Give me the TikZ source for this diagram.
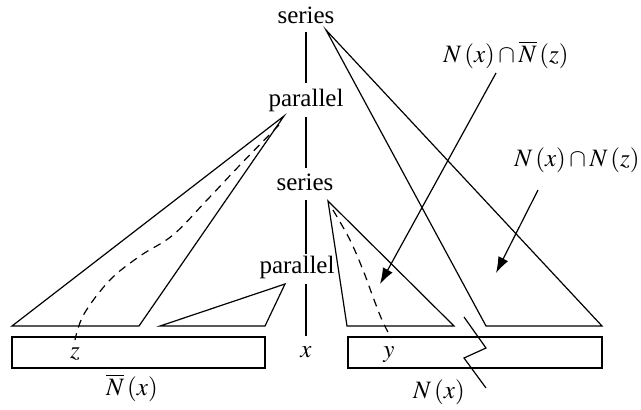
\documentclass[tikz,border=0pt]{standalone}
\usepackage{mathptmx}
\usepackage[no-math]{fontspec}
\setmainfont{Liberation Serif}
\usetikzlibrary{arrows.meta}
\tikzset{
  lbl/.style={inner sep=0pt, font=\fontsize{12.5}{15}\selectfont},
  shp/.style={line width=0.6pt, line join=miter},
  dsh/.style={line width=0.6pt, dash pattern=on 4pt off 3pt},
  ptr/.style={line width=0.6pt, -{Latex[length=8pt,width=5.5pt]}},
}
\begin{document}
\begin{tikzpicture}[x=0.5pt,y=-0.5pt]
\useasboundingbox (0,0) rectangle (641,409);
% spine labels
\node[lbl,anchor=base] (s1) at (306,23) {series};
\node[lbl,anchor=base] (p1) at (306,106) {parallel};
\node[lbl,anchor=base] (s2) at (305,190) {series};
\node[lbl,anchor=base] (p2) at (297,273) {parallel};
\node[lbl,anchor=base] (xl) at (306,357) {$x$};
% spine
\draw[shp,shorten <=4.5pt,shorten >=11.5pt] (s1.base) -- (p1.base);
\draw[shp,shorten <=5.5pt,shorten >=11pt] (p1.base) -- (p1.base |- s2.base);
\draw[shp,shorten <=5pt,shorten >=9.5pt] (p1.base |- s2.base) -- (p1.base |- p2.base);
\draw[shp,shorten <=5.5pt,shorten >=10.5pt] (p1.base |- p2.base) -- (p1.base |- xl.base);
% left triangles
\draw[shp] (284,116) -- (12,326) -- (139,326) -- cycle;
\draw[shp] (285,284) -- (160,326) -- (265,326) -- cycle;
% right triangles
\draw[shp] (328,201) -- (347,326) -- (454,326) -- cycle;
\draw[shp] (326,30) -- (486,326) -- (602,326) -- cycle;
% rectangles
\draw[shp] (12,337) rectangle (265,368);
\draw[shp] (348,337) rectangle (602,368);
% dashed paths
\draw[dsh] plot[smooth,tension=0.6] coordinates {(279,125) (240,165) (207,200) (173,235) (140,256) (110,280) (84,314) (75,340)};
\draw[dsh] plot[smooth,tension=0.6] coordinates {(333,210) (350,240) (363,270) (373,297) (382,320) (391,338)};
% labels
\node[lbl,anchor=base] (zl) at (75,358) {$z$};
\node[lbl,anchor=base] (yl) at (389,357) {$y$};
\node[lbl] (nbx) at (132,388) {$\overline{N}\,(x)$};
\node[lbl] (nx) at (439,392) {$N\,(x)$};
\node[lbl] (l1) at (506,55) {$N\,(x)\cap\overline{N}\,(z)$};
\node[lbl] (l2) at (577,160) {$N\,(x)\cap N\,(z)$};
% pointers
\coordinate (a1s) at (496,73);
\coordinate (a1t) at (380,284);
\coordinate (a2s) at (538,190);
\coordinate (a2t) at (496,273);
\draw[ptr] (a1s) -- (a1t);
\draw[ptr] (a2s) -- (a2t);
% zigzag for N(x)
\coordinate (z1) at (464,317);
\coordinate (z2) at (486,348);
\coordinate (z3) at (464,358);
\coordinate (z4) at (486,388);
\draw[shp] (z1) -- (z2) -- (z3) -- (z4);
\end{tikzpicture}
\end{document}
